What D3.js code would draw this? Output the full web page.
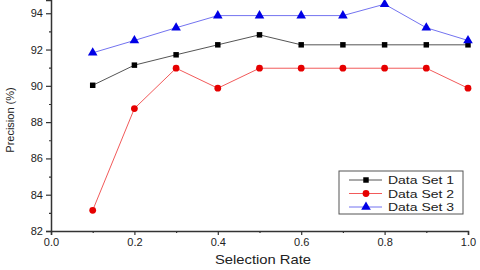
<!DOCTYPE html>
<html>
<head>
<meta charset="utf-8">
<script src="https://cdn.jsdelivr.net/npm/d3@7"></script>
<style>
  body { margin: 0; background: #fff; }
  text { font-family: "Liberation Sans", Arial, sans-serif; fill: #222; }
</style>
</head>
<body>
<div id="chart"></div>
<script>
// data
const rates = [0.1, 0.2, 0.3, 0.4, 0.5, 0.6, 0.7, 0.8, 0.9, 1.0];
const set1 = [90.03, 91.14, 91.71, 92.26, 92.81, 92.26, 92.26, 92.26, 92.26, 92.26];
const set2 = [83.14, 88.75, 90.97, 89.87, 90.97, 90.97, 90.97, 90.97, 90.97, 89.87];
const set3 = [91.82, 92.50, 93.20, 93.87, 93.87, 93.87, 93.87, 94.50, 93.20, 92.50];
const seriesNames = ["Data Set 1", "Data Set 2", "Data Set 3"];
const xTicks = [0.0, 0.2, 0.4, 0.6, 0.8, 1.0];
const yTicks = [82, 84, 86, 88, 90, 92, 94];

const width = 480, height = 270;

const svg = d3.select("#chart").append("svg")
  .attr("width", width)
  .attr("height", height);

// scales
const xScale = d3.scaleLinear().domain([0, 1.0]).range([51, 468]);
const yScale = d3.scaleLinear().domain([82, 94.73]).range([231, 0]);

// axes, major ticks with labels, minor ticks without
const xAxis = svg.append("g")
  .attr("transform", `translate(0, ${yScale(82)})`)
  .call(d3.axisBottom(xScale).tickValues(xTicks).tickFormat(d3.format(".1f")).tickSize(4).tickPadding(3));
svg.append("g")
  .attr("transform", `translate(0, ${yScale(82)})`)
  .call(d3.axisBottom(xScale).tickValues(d3.range(0.1, 1.0, 0.2)).tickFormat("").tickSize(2))
  .select(".domain").remove();

const yAxis = svg.append("g")
  .attr("transform", `translate(${xScale(0)}, 0)`)
  .call(d3.axisLeft(yScale).tickValues(yTicks).tickSize(5).tickPadding(3));
svg.append("g")
  .attr("transform", `translate(${xScale(0)}, 0)`)
  .call(d3.axisLeft(yScale).tickValues(d3.range(83, 95, 2)).tickFormat("").tickSize(2))
  .select(".domain").remove();

svg.selectAll(".domain").attr("stroke", "#333").attr("stroke-width", 1.5);
svg.selectAll(".tick line").attr("stroke", "#333").attr("stroke-width", 1.2);
svg.selectAll(".tick text")
  .attr("font-size", "11px")
  .style("font-family", "Liberation Sans, Arial, sans-serif")
  .attr("fill", "#222");

// axis titles
svg.append("text")
  .attr("x", 263)
  .attr("y", 264)
  .attr("text-anchor", "middle")
  .attr("font-size", "13px")
  .attr("textLength", 96)
  .attr("lengthAdjust", "spacingAndGlyphs")
  .text("Selection Rate");

svg.append("text")
  .attr("transform", "translate(13.5, 120) rotate(-90)")
  .attr("text-anchor", "middle")
  .attr("font-size", "11px")
  .text("Precision (%)");

// series styles
const series = [
  { name: seriesNames[0], values: set1, line: "#555", fill: "#000", shape: d3.symbolSquare, size: 30 },
  { name: seriesNames[1], values: set2, line: "#f25a5a", fill: "#e60000", shape: d3.symbolCircle, size: 36 },
  { name: seriesNames[2], values: set3, line: "#7373f0", fill: "#0000e6", shape: d3.symbolTriangle, size: 40 }
];

const line = d3.line()
  .x((d, i) => xScale(rates[i]))
  .y(d => yScale(d));

series.forEach(s => {
  svg.append("path")
    .datum(s.values)
    .attr("fill", "none")
    .attr("stroke", s.line)
    .attr("stroke-width", 1)
    .attr("d", line);

  svg.append("g").selectAll("path")
    .data(s.values)
    .join("path")
    .attr("transform", (d, i) => `translate(${xScale(rates[i])}, ${yScale(d)})`)
    .attr("d", d3.symbol().type(s.shape).size(s.size))
    .attr("fill", s.fill);
});

// legend
const legend = svg.append("g").attr("transform", "translate(339, 171)");
legend.append("rect")
  .attr("width", 124)
  .attr("height", 43)
  .attr("fill", "#fff")
  .attr("stroke", "#555")
  .attr("stroke-width", 1);

series.forEach((s, i) => {
  const row = legend.append("g").attr("transform", `translate(0, ${9 + i * 13.5})`);
  row.append("line")
    .attr("x1", 10).attr("x2", 43)
    .attr("stroke", s.line)
    .attr("stroke-width", 1);
  row.append("path")
    .attr("transform", "translate(27, 0)")
    .attr("d", d3.symbol().type(s.shape).size(s.size))
    .attr("fill", s.fill);
  row.append("text")
    .attr("x", 49)
    .attr("y", 4)
    .attr("font-size", "11.5px")
    .attr("textLength", 66)
    .attr("lengthAdjust", "spacingAndGlyphs")
    .text(s.name);
});
</script>
</body>
</html>
